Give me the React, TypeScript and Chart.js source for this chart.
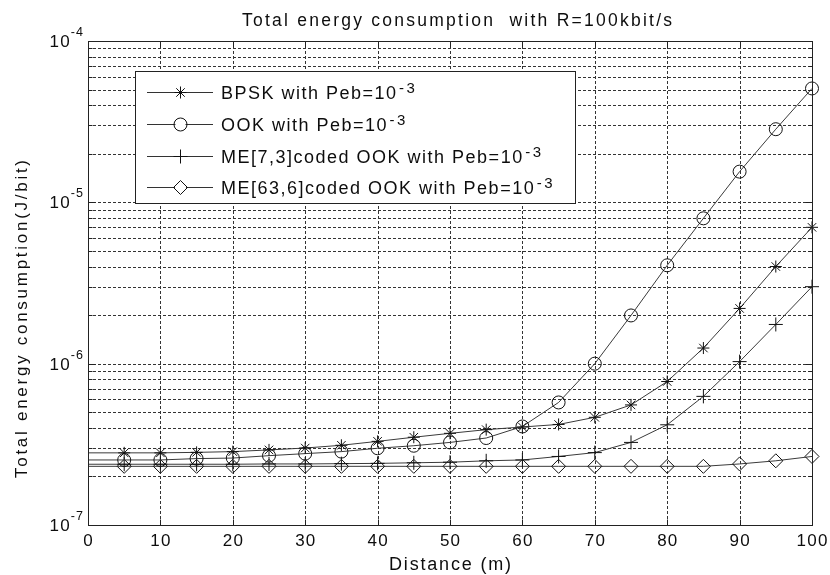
import { useEffect, useRef } from 'react';
import { Chart, registerables } from 'chart.js';

Chart.register(...registerables);

// ---------- data ----------
const distances = [0, 5, 10, 15, 20, 25, 30, 35, 40, 45, 50, 55, 60, 65, 70, 75, 80, 85, 90, 95, 100];
const bpsk = [2.8e-7, 2.8e-7, 2.8e-7, 2.82e-7, 2.85e-7, 2.92e-7, 3.0e-7, 3.12e-7, 3.3e-7, 3.5e-7, 3.7e-7, 3.9e-7, 4.05e-7, 4.2e-7, 4.65e-7, 5.55e-7, 7.75e-7, 1.25e-6, 2.2e-6, 4.0e-6, 7.0e-6];
const ook = [2.53e-7, 2.53e-7, 2.53e-7, 2.58e-7, 2.6e-7, 2.69e-7, 2.77e-7, 2.85e-7, 2.99e-7, 3.1e-7, 3.25e-7, 3.46e-7, 4.08e-7, 5.75e-7, 1.0e-6, 1.99e-6, 4.07e-6, 7.96e-6, 1.55e-5, 2.84e-5, 5.08e-5];
const me73 = [2.38e-7, 2.38e-7, 2.38e-7, 2.38e-7, 2.38e-7, 2.39e-7, 2.39e-7, 2.4e-7, 2.41e-7, 2.43e-7, 2.45e-7, 2.5e-7, 2.53e-7, 2.66e-7, 2.81e-7, 3.25e-7, 4.18e-7, 6.27e-7, 1.03e-6, 1.75e-6, 3.0e-6];
const me636 = [2.31e-7, 2.31e-7, 2.31e-7, 2.31e-7, 2.31e-7, 2.31e-7, 2.31e-7, 2.31e-7, 2.31e-7, 2.31e-7, 2.31e-7, 2.31e-7, 2.31e-7, 2.31e-7, 2.31e-7, 2.31e-7, 2.31e-7, 2.31e-7, 2.39e-7, 2.5e-7, 2.66e-7];

const seriesLabels = ['BPSK with Peb=10', 'OOK with Peb=10', 'ME[7,3]coded OOK with Peb=10', 'ME[63,6]coded OOK with Peb=10'];
const seriesExponent = '-3';
const markerStyles = ['star', 'circle', 'cross', 'rectRot'];
const markerRadii = [6, 6.5, 7, 7];

const xTicks = [0, 10, 20, 30, 40, 50, 60, 70, 80, 90, 100];
const yDecades = [-7, -6, -5, -4];

const titleText = 'Total energy consumption  with R=100kbit/s';
const xTitle = 'Distance (m)';
const yTitle = 'Total energy consumption(J/bit)';

const FONT = '"Liberation Sans", Arial, Helvetica, sans-serif';
const INK = '#0d0d0d';

function drawSpaced(ctx: CanvasRenderingContext2D, text: string, x: number, y: number, size: number, spacing: number, align: 'left' | 'center' | 'right') {
  ctx.font = `${size}px ${FONT}`;
  (ctx as any).letterSpacing = '0px';
  const w0 = ctx.measureText(text).width;
  const w = w0 + spacing * (text.length - 1);
  (ctx as any).letterSpacing = `${spacing}px`;
  ctx.textAlign = 'left';
  const sx = align === 'center' ? x - w / 2 : align === 'right' ? x - w : x;
  ctx.fillText(text, sx, y);
  (ctx as any).letterSpacing = '0px';
  return w;
}

function fitSpacing(ctx: CanvasRenderingContext2D, text: string, size: number, target: number) {
  ctx.font = `${size}px ${FONT}`;
  (ctx as any).letterSpacing = '0px';
  const w0 = ctx.measureText(text).width;
  return (target - w0) / Math.max(1, text.length - 1);
}

function drawMarker(ctx: CanvasRenderingContext2D, style: string, x: number, y: number, r: number) {
  ctx.beginPath();
  if (style === 'star') {
    for (let i = 0; i < 4; i++) {
      const a = (i * Math.PI) / 4;
      ctx.moveTo(x - Math.cos(a) * r, y - Math.sin(a) * r);
      ctx.lineTo(x + Math.cos(a) * r, y + Math.sin(a) * r);
    }
  } else if (style === 'circle') {
    ctx.arc(x, y, r, 0, Math.PI * 2);
  } else if (style === 'cross') {
    ctx.moveTo(x - r, y);
    ctx.lineTo(x + r, y);
    ctx.moveTo(x, y - r);
    ctx.lineTo(x, y + r);
  } else {
    ctx.moveTo(x, y - r);
    ctx.lineTo(x + r, y);
    ctx.lineTo(x, y + r);
    ctx.lineTo(x - r, y);
    ctx.closePath();
  }
  ctx.stroke();
}

const decorPlugin = {
  id: 'matlabDecor',
  beforeDatasetsDraw(chart: any) {
    const { ctx, chartArea: a, scales } = chart;
    const xs = scales.x;
    const ys = scales.y;
    ctx.save();
    ctx.strokeStyle = '#333';
    ctx.lineWidth = 1;
    ctx.setLineDash([3, 2]);
    for (const t of xTicks) {
      if (t === xs.min || t === xs.max) continue;
      const px = Math.round(xs.getPixelForValue(t)) + 0.5;
      ctx.beginPath();
      ctx.moveTo(px, a.top);
      ctx.lineTo(px, a.bottom);
      ctx.stroke();
    }
    for (const e of yDecades) {
      for (let m = 1; m <= 9; m++) {
        const v = m * Math.pow(10, e);
        if (v <= ys.min * 1.0001 || v >= ys.max * 0.9999) continue;
        const py = Math.round(ys.getPixelForValue(v)) + 0.5;
        ctx.beginPath();
        ctx.moveTo(a.left, py);
        ctx.lineTo(a.right, py);
        ctx.stroke();
      }
    }
    ctx.restore();
  },
  afterDatasetsDraw(chart: any) {
    const { ctx, chartArea: a, scales } = chart;
    const xs = scales.x;
    const ys = scales.y;
    ctx.save();
    ctx.setLineDash([]);
    ctx.strokeStyle = '#222';
    ctx.lineWidth = 1;
    const L = Math.round(a.left) + 0.5;
    const R = Math.round(a.right) + 0.5;
    const T = Math.round(a.top) + 0.5;
    const B = Math.round(a.bottom) + 0.5;
    ctx.strokeRect(L, T, R - L, B - T);
    ctx.beginPath();
    for (const t of xTicks) {
      const px = Math.round(xs.getPixelForValue(t)) + 0.5;
      ctx.moveTo(px, B);
      ctx.lineTo(px, B - 6);
      ctx.moveTo(px, T);
      ctx.lineTo(px, T + 6);
    }
    for (const e of yDecades) {
      for (let m = 1; m <= 9; m++) {
        const v = m * Math.pow(10, e);
        if (v < ys.min * 0.9999 || v > ys.max * 1.0001) continue;
        const py = Math.round(ys.getPixelForValue(v)) + 0.5;
        const len = m === 1 ? 7 : 4;
        ctx.moveTo(L, py);
        ctx.lineTo(L + len, py);
        ctx.moveTo(R, py);
        ctx.lineTo(R - len, py);
      }
    }
    ctx.stroke();

    ctx.fillStyle = INK;
    ctx.textBaseline = 'alphabetic';
    // x tick labels
    for (const t of xTicks) {
      const px = xs.getPixelForValue(t);
      drawSpaced(ctx, String(t), px, a.bottom + 21, 17, 1.2, 'center');
    }
    // y decade labels
    for (const e of yDecades) {
      const py = ys.getPixelForValue(Math.pow(10, e));
      const expW = drawSpaced(ctx, '-' + Math.abs(e), a.left - 5, py - 5, 12.5, 1.2, 'right');
      drawSpaced(ctx, '10', a.left - 6 - expW, py + 6, 17, 1.2, 'right');
    }
    // title
    const tsp = fitSpacing(ctx, titleText, 17.5, 430);
    drawSpaced(ctx, titleText, 242, 26, 17.5, tsp, 'left');
    // x title
    const xsp = fitSpacing(ctx, xTitle, 18, 122);
    drawSpaced(ctx, xTitle, (a.left + a.right) / 2, 570, 18, xsp, 'center');
    // y title
    ctx.save();
    ctx.translate(27, 319);
    ctx.rotate(-Math.PI / 2);
    const ysp = fitSpacing(ctx, yTitle, 17, 318);
    drawSpaced(ctx, yTitle, 0, 0, 17, ysp, 'center');
    ctx.restore();

    // legend
    const bx = 135.5, by = 71.5, bw = 440, bh = 132;
    ctx.fillStyle = '#fff';
    ctx.fillRect(bx, by, bw, bh);
    ctx.strokeStyle = '#222';
    ctx.strokeRect(bx, by, bw, bh);
    const rows = [92, 124, 156, 187];
    seriesLabels.forEach((lab, i) => {
      const cy = rows[i] + 0.5;
      ctx.strokeStyle = '#333';
      ctx.lineWidth = 1;
      ctx.beginPath();
      ctx.moveTo(147, cy);
      ctx.lineTo(213, cy);
      ctx.stroke();
      if (markerStyles[i] === 'circle' || markerStyles[i] === 'rectRot') {
        ctx.fillStyle = '#fff';
        ctx.beginPath();
        ctx.arc(180.5, cy, markerRadii[i] - 1.5, 0, Math.PI * 2);
        ctx.fill();
      }
      ctx.strokeStyle = '#111';
      drawMarker(ctx, markerStyles[i], 180.5, cy, markerRadii[i]);
      ctx.fillStyle = INK;
      const w = drawSpaced(ctx, lab, 221, cy + 6.5, 18, 1.5, 'left');
      drawSpaced(ctx, seriesExponent, 221 + w + 3, cy + 0.5, 15, 2.5, 'left');
    });
    ctx.restore();
  },
};

export default function App() {
  const canvasRef = useRef<HTMLCanvasElement | null>(null);

  useEffect(() => {
    const canvas = canvasRef.current;
    if (!canvas) return;
    const all = [bpsk, ook, me73, me636];
    const chart = new Chart(canvas, {
      type: 'line',
      data: {
        datasets: all.map((series, i) => ({
          label: seriesLabels[i],
          data: distances.map((d, k) => ({ x: d, y: series[k] })),
          borderColor: '#3a3a3a',
          borderWidth: 1,
          pointStyle: markerStyles[i] as any,
          pointRadius: distances.map((d) => (d === 0 ? 0 : markerRadii[i])),
          pointBorderColor: '#111',
          pointBorderWidth: 1,
          pointBackgroundColor: 'rgba(0,0,0,0)',
          pointHoverRadius: 0,
          tension: 0,
          fill: false,
          clip: false as any,
        })),
      },
      options: {
        animation: false,
        responsive: false,
        devicePixelRatio: 1,
        events: [],
        layout: { padding: { left: 88, top: 41, right: 18, bottom: 50 } },
        plugins: {
          legend: { display: false },
          title: { display: false },
          tooltip: { enabled: false },
        },
        scales: {
          x: { type: 'linear', min: 0, max: 100, display: false },
          y: { type: 'logarithmic', min: 1e-7, max: 1e-4, display: false },
        },
      },
      plugins: [decorPlugin],
    });
    return () => chart.destroy();
  }, []);

  return (
    <div style={{ position: 'fixed', left: 0, top: 0, width: 830, height: 575, background: '#fff' }}>
      <canvas ref={canvasRef} width={830} height={575} style={{ width: 830, height: 575, display: 'block' }} />
    </div>
  );
}
